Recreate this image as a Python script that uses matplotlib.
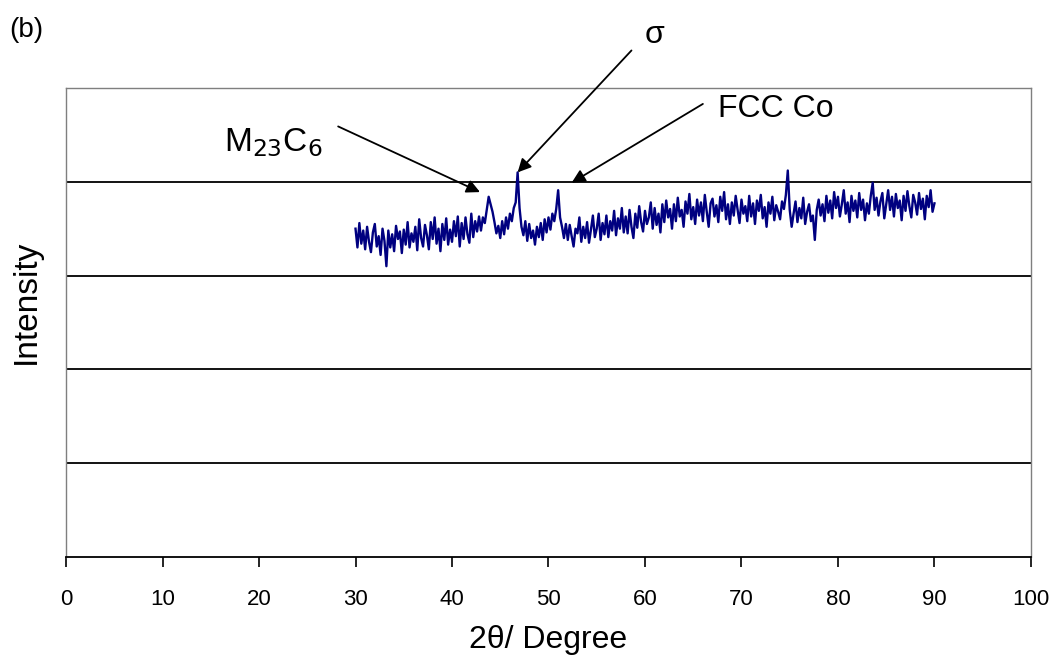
import numpy as np
import matplotlib
matplotlib.use("Agg")
import matplotlib.pyplot as plt

plt.rcParams["font.family"] = ["Liberation Sans", "DejaVu Sans"]

# XRD scan, 2theta from 30 to 90 deg in 0.2 deg steps
two_theta_start = 30.0
two_theta_step = 0.2
intensity_rows = [
    [350, 330, 356, 334, 348],  # 30
    [328, 352, 336, 325, 346],  # 31
    [355, 331, 342, 322, 350],  # 32
    [337, 310, 348, 330, 344],  # 33
    [326, 353, 339, 347, 324],  # 34
    [349, 333, 357, 330, 345],  # 35
    [336, 352, 327, 360, 340],  # 36
    [331, 354, 343, 328, 357],  # 37
    [339, 362, 334, 350, 326],  # 38
    [355, 338, 361, 333, 349],  # 39
    [336, 358, 342, 363, 331],  # 40
    [356, 339, 362, 344, 335],  # 41
    [366, 341, 358, 347, 363],  # 42
    [348, 362, 356, 370, 384],  # 43
    [376, 368, 357, 345, 353],  # 44
    [340, 358, 344, 362, 350],  # 45
    [366, 358, 372, 378, 410],  # 46
    [372, 352, 343, 358, 337],  # 47
    [355, 340, 348, 333, 352],  # 48
    [341, 356, 338, 360, 346],  # 49
    [362, 349, 366, 358, 371],  # 50
    [391, 362, 352, 340, 355],  # 51
    [338, 354, 342, 331, 350],  # 52
    [345, 362, 336, 352, 340],  # 53
    [357, 335, 349, 364, 341],  # 54
    [350, 366, 338, 356, 344],  # 55
    [364, 341, 358, 348, 369],  # 56
    [343, 361, 350, 372, 346],  # 57
    [363, 345, 370, 352, 340],  # 58
    [366, 351, 374, 357, 347],  # 59
    [369, 355, 362, 378, 350],  # 60
    [372, 354, 366, 346, 376],  # 61
    [357, 380, 362, 371, 350],  # 62
    [376, 358, 383, 363, 370],  # 63
    [352, 379, 366, 387, 360],  # 64
    [373, 355, 381, 364, 378],  # 65
    [358, 386, 368, 352, 377],  # 66
    [382, 363, 375, 357, 384],  # 67
    [369, 389, 360, 376, 355],  # 68
    [378, 364, 385, 370, 356],  # 69
    [381, 366, 374, 358, 385],  # 70
    [363, 377, 355, 380, 369],  # 71
    [386, 361, 373, 352, 378],  # 72
    [366, 384, 359, 375, 368],  # 73
    [360, 379, 371, 386, 412],  # 74
    [370, 352, 366, 379, 357],  # 75
    [372, 361, 383, 355, 368],  # 76
    [376, 358, 364, 338, 370],  # 77
    [381, 364, 376, 358, 385],  # 78
    [367, 380, 361, 389, 372],  # 79
    [384, 363, 376, 391, 366],  # 80
    [378, 357, 385, 369, 380],  # 81
    [362, 388, 370, 381, 359],  # 82
    [377, 366, 385, 399, 370],  # 83
    [383, 364, 379, 388, 361],  # 84
    [376, 391, 370, 384, 363],  # 85
    [387, 372, 380, 359, 385],  # 86
    [369, 390, 374, 362, 386],  # 87
    [378, 365, 388, 371, 382],  # 88
    [360, 385, 373, 391, 368],  # 89
    [377],                      # 90
]

x_ticks = [0, 10, 20, 30, 40, 50, 60, 70, 80, 90, 100]
y_grid = [100, 200, 300, 400]

# peak labels: (text, text position, arrow start, arrow tip)
peak_labels = [
    ("M$_{23}$C$_{6}$", (16.4, 442), (28.2, 459), (42.9, 389)),
    ("σ", (61.0, 556), (58.6, 540), (46.8, 410)),
    ("FCC Co", (67.6, 478), (66.0, 483), (52.4, 399)),
]

intensity = np.concatenate([np.array(r, dtype=float) for r in intensity_rows])
two_theta = two_theta_start + two_theta_step * np.arange(len(intensity))

fig = plt.figure(figsize=(10.6, 6.7), dpi=100)
ax = fig.add_axes([0.0623, 0.1687, 0.9103, 0.7000])

for g in y_grid:
    ax.axhline(g, color="black", linewidth=1.3, zorder=1)

ax.plot(two_theta, intensity, color="#000080", linewidth=1.7, zorder=3)

ax.set_xlim(0, 100)
ax.set_ylim(0, 500)
ax.set_xticks(x_ticks)
ax.set_yticks([])
ax.tick_params(axis="x", direction="out", length=7, width=1.2, labelsize=16, pad=16)

for side in ["left", "top", "right"]:
    ax.spines[side].set_color("#7f7f7f")
    ax.spines[side].set_linewidth(1.0)
ax.spines["bottom"].set_color("black")
ax.spines["bottom"].set_linewidth(1.3)

ax.set_xlabel("2θ/ Degree", fontsize=23, labelpad=11)
ax.set_ylabel("Intensity", fontsize=24)
ax.yaxis.set_label_coords(-0.025, 0.544)

for label, text_pos, arrow_start, arrow_tip in peak_labels:
    ha = "center" if label == "σ" else "left"
    size = 24 if label.startswith("M") else 23
    ax.text(text_pos[0], text_pos[1], label, fontsize=size, ha=ha, va="center",
            clip_on=False)
    ax.annotate("", xy=arrow_tip, xytext=arrow_start, annotation_clip=False,
                arrowprops=dict(arrowstyle="-|>", color="black", lw=1.3,
                                mutation_scale=20, shrinkA=0, shrinkB=0))

fig.text(0.009, 0.955, "(b)", fontsize=20, ha="left", va="center")

fig.savefig("out.png", dpi=100)
